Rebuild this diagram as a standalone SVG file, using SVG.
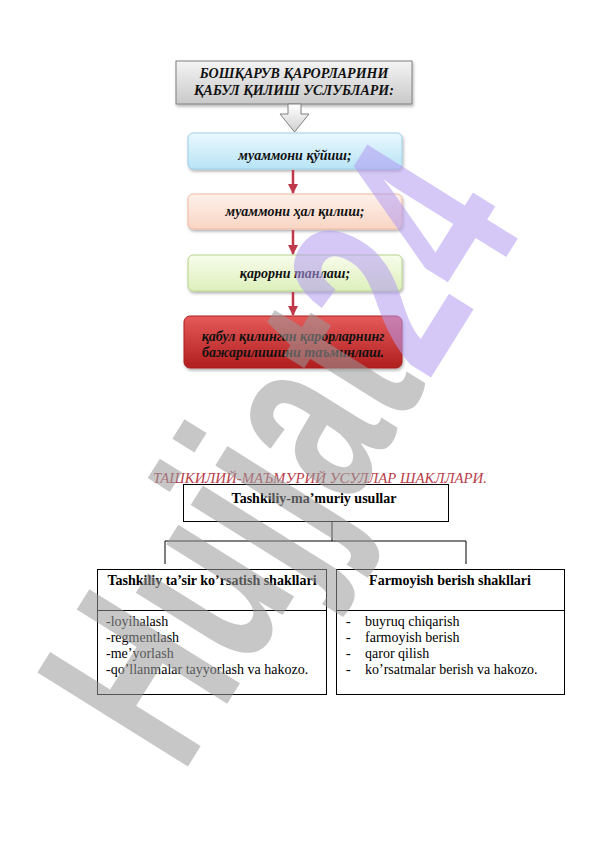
<svg xmlns="http://www.w3.org/2000/svg" width="596" height="842" viewBox="0 0 596 842">
<defs>
<linearGradient id="gGray" x1="0" y1="0" x2="0" y2="1"><stop offset="0" stop-color="#f4f4f4"/><stop offset="1" stop-color="#c9c9c9"/></linearGradient>
<linearGradient id="gArrow" x1="0" y1="0" x2="0" y2="1"><stop offset="0" stop-color="#ffffff"/><stop offset="1" stop-color="#d0d0d0"/></linearGradient>
<linearGradient id="gBlue" x1="0" y1="0" x2="0" y2="1"><stop offset="0" stop-color="#eaf8fe"/><stop offset="1" stop-color="#b8e4f6"/></linearGradient>
<linearGradient id="gPeach" x1="0" y1="0" x2="0" y2="1"><stop offset="0" stop-color="#fef1ea"/><stop offset="1" stop-color="#f9d5c4"/></linearGradient>
<linearGradient id="gGreen" x1="0" y1="0" x2="0" y2="1"><stop offset="0" stop-color="#f8fcec"/><stop offset="1" stop-color="#ddf0bb"/></linearGradient>
<linearGradient id="gRed" x1="0" y1="0" x2="0" y2="1"><stop offset="0" stop-color="#e65a5a"/><stop offset="1" stop-color="#b01e1e"/></linearGradient>
<filter id="sh" x="-10%" y="-20%" width="120%" height="150%"><feDropShadow dx="1" dy="2" stdDeviation="1.5" flood-color="#000" flood-opacity="0.3"/></filter>
<marker id="ah" viewBox="0 0 10 10" refX="9" refY="5" markerWidth="4" markerHeight="4" orient="auto"><path d="M0,0 L10,5 L0,10 z" fill="#c0394a"/></marker>
</defs>
<style>
.bi{font-family:"Liberation Serif","Times New Roman",serif;font-weight:bold;font-style:italic;font-size:14px;fill:#111;text-anchor:middle}
.hd{font-family:"Liberation Serif","Times New Roman",serif;font-weight:bold;font-size:14px;fill:#000;text-anchor:middle}
.it{font-family:"Liberation Serif","Times New Roman",serif;font-size:14px;fill:#000}
.ln{stroke:#000;stroke-width:1;fill:none}
.bx{fill:#fff;stroke:#000;stroke-width:1}
.ra{stroke:#c0394a;stroke-width:2.5;fill:none;marker-end:url(#ah)}
</style>
<rect width="596" height="842" fill="#fff"/>

<g id="top">
<rect x="176" y="61" width="236" height="43" fill="url(#gGray)" stroke="#808080" stroke-width="1" filter="url(#sh)"/>
<text class="bi" x="294" y="78" font-size="14.5">БОШҚАРУВ ҚАРОРЛАРИНИ</text>
<text class="bi" x="294" y="95" font-size="14.5">ҚАБУЛ ҚИЛИШ УСЛУБЛАРИ:</text>
</g>
<g id="blockArrow">
<path d="M288,104 L301,104 L301,114 L309,114 L294.5,132 L280,114 L288,114 Z" fill="url(#gArrow)" stroke="#808080" stroke-width="1"/>
</g>
<g id="n1">
<rect x="188" y="133" width="214" height="36" rx="5" fill="url(#gBlue)" stroke="#9ccfe6" filter="url(#sh)"/>
<text class="bi" x="295" y="160">муаммони қўйиш;</text>
</g>
<g id="n2">
<rect x="188" y="194" width="214" height="35" rx="5" fill="url(#gPeach)" stroke="#efb9a2" filter="url(#sh)"/>
<text class="bi" x="295" y="216">муаммони ҳал қилиш;</text>
</g>
<g id="n3">
<rect x="188" y="255" width="214" height="36" rx="5" fill="url(#gGreen)" stroke="#b6d48c" filter="url(#sh)"/>
<text class="bi" x="295" y="278">қарорни танлаш;</text>
</g>
<g id="n4">
<rect x="184" y="316" width="218" height="52" rx="6" fill="url(#gRed)" stroke="#a82020" filter="url(#sh)"/>
<text class="bi" x="293" y="341">қабул қилинган қарорларнинг</text>
<text class="bi" x="293" y="357">бажарилишини таъминлаш.</text>
</g>
<g id="connectors">
<line class="ra" x1="293" y1="170" x2="293" y2="193"/>
<line class="ra" x1="293" y1="230" x2="293" y2="254"/>
<line class="ra" x1="293" y1="292" x2="293" y2="315"/>
<path class="ln" d="M332,522 V541 M165,564 V541 H466 V564"/>
</g>

<text x="320" y="483" font-family="Liberation Serif,'Times New Roman',serif" font-style="italic" font-size="14.5" fill="#b8404a" text-anchor="middle" textLength="334" lengthAdjust="spacingAndGlyphs">ТАШКИЛИЙ-МАЪМУРИЙ УСУЛЛАР ШАКЛЛАРИ.</text>

<g id="root">
<rect class="bx" x="183.5" y="484.5" width="265" height="37"/>
<text class="hd" x="314" y="503">Tashkiliy-ma’muriy usullar</text>
</g>
<g id="left">
<rect class="bx" x="97.5" y="569.5" width="229" height="125"/>
<line class="ln" x1="97.5" y1="610.5" x2="326.5" y2="610.5"/>
<text class="hd" x="212" y="585">Tashkiliy ta’sir ko’rsatish shakllari</text>
<text class="it" x="106" y="626">-loyihalash</text>
<text class="it" x="106" y="642">-regmentlash</text>
<text class="it" x="106" y="658">-me’yorlash</text>
<text class="it" x="106" y="674">-qo’llanmalar tayyorlash va hakozo.</text>
</g>
<g id="right">
<rect class="bx" x="336.5" y="569.5" width="228" height="125"/>
<line class="ln" x1="336.5" y1="610.5" x2="564.5" y2="610.5"/>
<text class="hd" x="450" y="585">Farmoyish berish shakllari</text>
<text class="it" x="346" y="626">-</text><text class="it" x="365" y="626">buyruq chiqarish</text>
<text class="it" x="346" y="642">-</text><text class="it" x="365" y="642">farmoyish berish</text>
<text class="it" x="346" y="658">-</text><text class="it" x="365" y="658">qaror qilish</text>
<text class="it" x="346" y="674">-</text><text class="it" x="365" y="674">ko’rsatmalar berish va hakozo.</text>
</g>

<g id="watermark" opacity="0.55" font-family="Liberation Sans,Arial,sans-serif" font-weight="bold" font-size="258">
<text transform="translate(182,776) rotate(-58)" textLength="650" lengthAdjust="spacingAndGlyphs"><tspan fill="#9a9a9a">Hujjat</tspan><tspan fill="#b39cf2">24</tspan></text>
</g>
</svg>
